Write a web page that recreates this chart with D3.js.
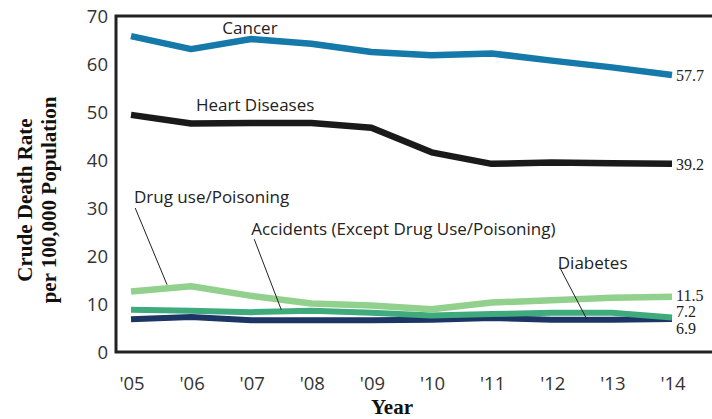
<!DOCTYPE html>
<html>
<head>
<meta charset="utf-8">
<script src="https://cdn.jsdelivr.net/npm/d3@7"></script>
<style>
  body { margin: 0; background: #fff; }
  svg { display: block; }
  .tick-lbl { font-family: "Open Sans", "Lato", sans-serif; font-size: 18.5px; fill: #333; }
  .serie-lbl { font-family: "Open Sans", "Lato", sans-serif; font-size: 17px; fill: #222; }
  .valor-lbl { font-family: "Liberation Serif", serif; font-size: 16px; fill: #222; }
  .eixo-titulo { font-family: "Liberation Serif", serif; font-size: 21px; font-weight: bold; fill: #111; }
</style>
</head>
<body>
<div id="grafico"></div>
<script>
// dados
const anos = ["'05", "'06", "'07", "'08", "'09", "'10", "'11", "'12", "'13", "'14"];
const cancer   = [65.8, 63.1, 65.2, 64.2, 62.5, 61.8, 62.2, 60.7, 59.3, 57.7];
const coracao  = [49.4, 47.6, 47.7, 47.7, 46.7, 41.6, 39.2, 39.5, 39.3, 39.2];
const drogas   = [12.6, 13.7, 11.7, 10.1, 9.7, 8.9, 10.3, 10.8, 11.3, 11.5];
const acidentes = [8.8, 8.6, 8.3, 8.6, 8.2, 7.6, 7.9, 8.2, 8.2, 7.2];
const diabetes = [6.8, 7.3, 6.6, 6.6, 6.6, 6.7, 7.1, 6.7, 6.7, 6.9];
const y_ticks = [0, 10, 20, 30, 40, 50, 60, 70];

const w = 712, h = 419;
const PAD = { left: 116, top: 16, bottom: 352 };

const $svg = d3.select("#grafico").append("svg")
  .attr("width", w).attr("height", h);

const scale_x = d3.scalePoint().domain(anos).range([131, 672]);
const scale_y = d3.scaleLinear().domain([0, 70]).range([PAD.bottom, PAD.top]);

// posicao fracionaria no eixo x (para as anotacoes)
const xi = i => scale_x(anos[0]) + i * scale_x.step();

// moldura
$svg.append("path")
  .attr("d", `M${w},${PAD.top}H${PAD.left}V${PAD.bottom}H${w}`)
  .attr("fill", "none").attr("stroke", "#222").attr("stroke-width", 3);

// rotulos do eixo y
$svg.selectAll("text.ytick").data(y_ticks).enter()
  .append("text").classed("tick-lbl", true)
  .attr("x", 108).attr("y", d => scale_y(d))
  .attr("text-anchor", "end").attr("dy", "0.36em")
  .text(d => d);

// rotulos do eixo x
$svg.selectAll("text.xtick").data(anos).enter()
  .append("text").classed("tick-lbl", true)
  .attr("x", d => scale_x(d) + 1).attr("y", 390)
  .attr("text-anchor", "middle")
  .text(d => d);

// titulos dos eixos
$svg.append("text").classed("eixo-titulo", true)
  .attr("transform", "translate(32,200) rotate(-90)")
  .attr("text-anchor", "middle").text("Crude Death Rate");
$svg.append("text").classed("eixo-titulo", true)
  .attr("transform", "translate(56,200) rotate(-90)")
  .attr("text-anchor", "middle").text("per 100,000 Population");
$svg.append("text").classed("eixo-titulo", true)
  .attr("x", 392).attr("y", 414).attr("text-anchor", "middle").text("Year");

// series
const series = [
  { nome: "Diabetes", valores: diabetes, cor: "#1c3564", larg: 6 },
  { nome: "Accidents", valores: acidentes, cor: "#3fab7c", larg: 6 },
  { nome: "Drug", valores: drogas, cor: "#92d08d", larg: 6.5 },
  { nome: "Heart", valores: coracao, cor: "#1b1a1a", larg: 6.5 },
  { nome: "Cancer", valores: cancer, cor: "#1579a9", larg: 6.5 }
];

const linha = d3.line()
  .x((d, i) => scale_x(anos[i]))
  .y(d => scale_y(d));

$svg.selectAll("path.serie").data(series).enter()
  .append("path").classed("serie", true)
  .attr("d", d => linha(d.valores))
  .attr("fill", "none")
  .attr("stroke", d => d.cor)
  .attr("stroke-width", d => d.larg)
  .attr("stroke-linejoin", "round");

// linhas de chamada (posicao em indice de ano, valor)
const chamadas = [
  [[0.07, 30.0], [0.6, 14.0]],
  [[2.05, 23.5], [2.5, 8.8]],
  [[7.13, 17.7], [7.58, 6.9]]
];
$svg.selectAll("line.chamada").data(chamadas).enter()
  .append("line")
  .attr("x1", d => xi(d[0][0])).attr("y1", d => scale_y(d[0][1]))
  .attr("x2", d => xi(d[1][0])).attr("y2", d => scale_y(d[1][1]))
  .attr("stroke", "#222").attr("stroke-width", 1);

// nomes das series
const nomes = [
  { texto: "Cancer", i: 1.52, v: 67.6 },
  { texto: "Heart Diseases", i: 1.08, v: 51.4 },
  { texto: "Drug use/Poisoning", i: 0.05, v: 32.4 },
  { texto: "Accidents (Except Drug Use/Poisoning)", i: 2.0, v: 25.6 },
  { texto: "Diabetes", i: 7.1, v: 18.6 }
];
$svg.selectAll("text.nome").data(nomes).enter()
  .append("text").classed("serie-lbl", true)
  .attr("x", d => xi(d.i)).attr("y", d => scale_y(d.v))
  .attr("dy", "0.36em")
  .text(d => d.texto);

// valores finais
const finais = [
  { v: cancer[9], y: cancer[9] },
  { v: coracao[9], y: coracao[9] },
  { v: drogas[9], y: 11.9 },
  { v: acidentes[9], y: 8.4 },
  { v: diabetes[9], y: 4.9 }
];
$svg.selectAll("text.valor").data(finais).enter()
  .append("text").classed("valor-lbl", true)
  .attr("x", scale_x("'14") + 4).attr("y", d => scale_y(d.y))
  .attr("dy", "0.36em")
  .text(d => d.v.toFixed(1));
</script>
</body>
</html>
